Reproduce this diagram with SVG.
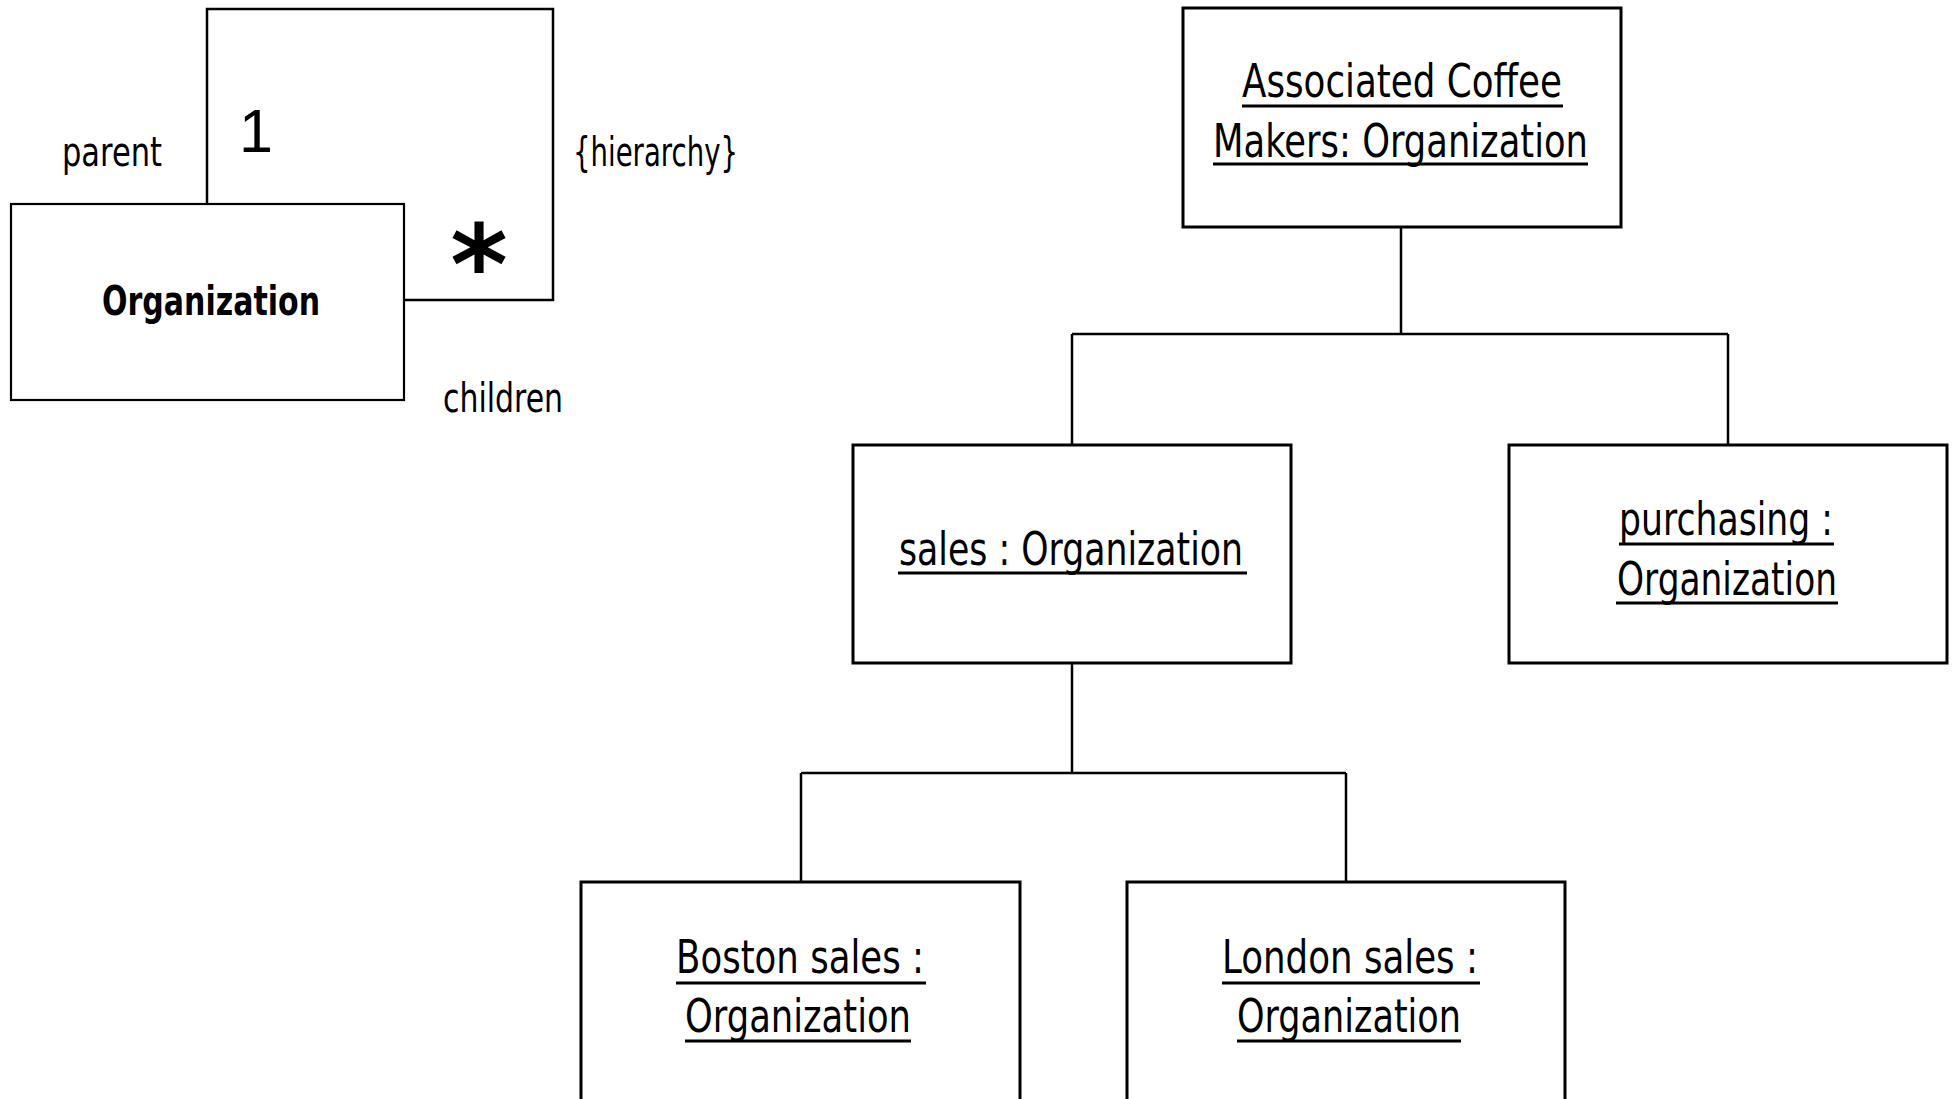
<svg xmlns="http://www.w3.org/2000/svg" width="1954" height="1099" viewBox="0 0 1954 1099">
<style>
.box{fill:#fff;stroke:#000;stroke-width:3}
.sbox{fill:#fff;stroke:#000;stroke-width:2.2}
.conn{fill:none;stroke:#000;stroke-width:2.5}
.ul{stroke:#000;stroke-width:3}
.t{font-family:"DejaVu Sans","Liberation Sans",sans-serif;font-size:46px;fill:#000}
.l{font-family:"DejaVu Sans","Liberation Sans",sans-serif;font-size:40px;fill:#000}
</style>
<rect width="1954" height="1099" fill="#fff"/>
<g id="connectors">
<path class="conn" d="M207,204 V9 H553 V300 H404"/>
<path class="conn" d="M1401,227 V334 M1072,334 H1728 M1072,334 V445 M1728,334 V445"/>
<path class="conn" d="M1072,663 V773 M801,773 H1346 M801,773 V882 M1346,773 V882"/>
</g>
<g id="labels">
<text class="l" x="62" y="166" textLength="100" lengthAdjust="spacingAndGlyphs">parent</text>
<text x="256" y="152" font-family="Liberation Sans, Arial, sans-serif" font-size="61" text-anchor="middle">1</text>
<text class="l" x="573" y="166" textLength="165" lengthAdjust="spacingAndGlyphs">{hierarchy}</text>
<text x="479" y="304" font-family="DejaVu Sans, sans-serif" font-size="110" font-weight="bold" text-anchor="middle">*</text>
<text class="l" x="443" y="412" textLength="120" lengthAdjust="spacingAndGlyphs">children</text>
</g>
<g id="organization">
<rect class="sbox" x="11" y="204" width="393" height="196"/>
<text class="l" x="102" y="315" font-weight="bold" font-size="41" textLength="218" lengthAdjust="spacingAndGlyphs">Organization</text>
</g>
<g id="associated">
<rect class="box" x="1183" y="8" width="438" height="219"/>
<text class="t" x="1242" y="97" textLength="320" lengthAdjust="spacingAndGlyphs">Associated Coffee</text>
<line class="ul" x1="1242" y1="106" x2="1563" y2="106"/>
<text class="t" x="1213" y="157" textLength="375" lengthAdjust="spacingAndGlyphs">Makers: Organization</text>
<line class="ul" x1="1213" y1="164" x2="1588" y2="164"/>
</g>
<g id="sales">
<rect class="box" x="853" y="445" width="438" height="218"/>
<text class="t" x="899" y="565" textLength="344" lengthAdjust="spacingAndGlyphs">sales : Organization</text>
<line class="ul" x1="898" y1="573" x2="1247" y2="573"/>
</g>
<g id="purchasing">
<rect class="box" x="1509" y="445" width="438" height="218"/>
<text class="t" x="1619" y="535" textLength="214" lengthAdjust="spacingAndGlyphs">purchasing :</text>
<line class="ul" x1="1619" y1="544" x2="1834" y2="544"/>
<text class="t" x="1617" y="595" textLength="220" lengthAdjust="spacingAndGlyphs">Organization</text>
<line class="ul" x1="1616" y1="603" x2="1838" y2="603"/>
</g>
<g id="boston">
<rect class="box" x="581" y="882" width="439" height="240"/>
<text class="t" x="676" y="973" textLength="248" lengthAdjust="spacingAndGlyphs">Boston sales :</text>
<line class="ul" x1="676" y1="983" x2="926" y2="983"/>
<text class="t" x="685" y="1032" textLength="226" lengthAdjust="spacingAndGlyphs">Organization</text>
<line class="ul" x1="685" y1="1041" x2="911" y2="1041"/>
</g>
<g id="london">
<rect class="box" x="1127" y="882" width="438" height="240"/>
<text class="t" x="1222" y="973" textLength="256" lengthAdjust="spacingAndGlyphs">London sales :</text>
<line class="ul" x1="1222" y1="983" x2="1480" y2="983"/>
<text class="t" x="1237" y="1032" textLength="224" lengthAdjust="spacingAndGlyphs">Organization</text>
<line class="ul" x1="1237" y1="1041" x2="1461" y2="1041"/>
</g>
</svg>
